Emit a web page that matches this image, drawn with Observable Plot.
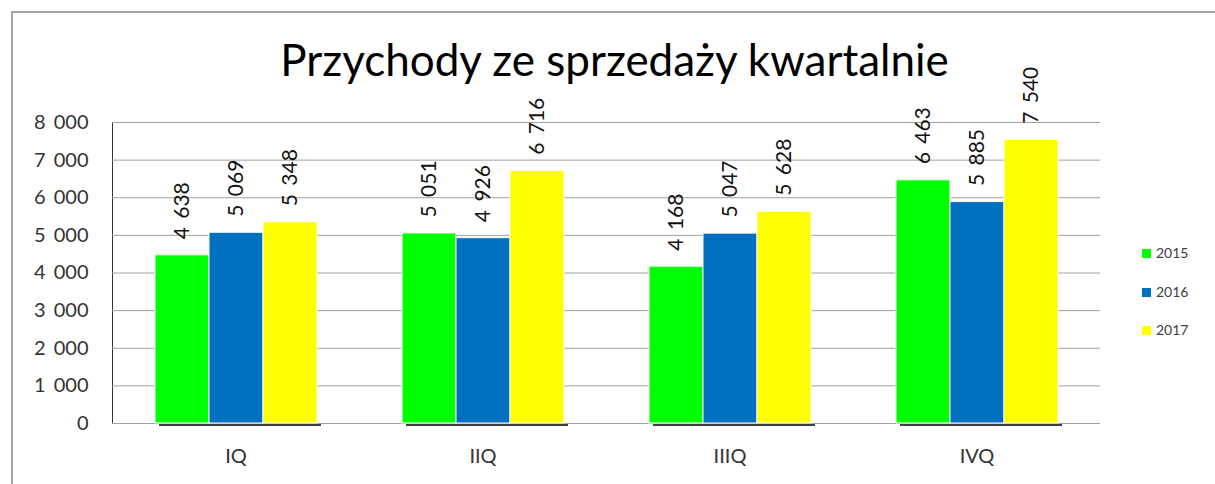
<!DOCTYPE html>
<html><head><meta charset="utf-8">
<script src="https://cdn.jsdelivr.net/npm/d3@7"></script>
<script src="https://cdn.jsdelivr.net/npm/@observablehq/plot@0.6"></script>
<style>
html,body{margin:0;padding:0;background:#fff;overflow:hidden;width:1215px;height:484px;}
#wrap{position:relative;width:1215px;height:484px;font-family:Lato,sans-serif;overflow:hidden}
#frame{position:absolute;left:11px;top:11px;width:1400px;height:700px;border:2px solid #a6a6a6;box-sizing:border-box}
#title{position:absolute;left:7px;width:1215px;top:37px;text-align:center;font-size:44px;line-height:44px;color:#000}
#chart{position:absolute;left:0;top:0}
#legend{position:absolute;left:1142px;top:0;font-size:14px;color:#404040}
.li{position:absolute;left:0;white-space:nowrap;line-height:14px;height:14px}
.sw{display:inline-block;width:9px;height:9px;margin-right:5px;vertical-align:0px}
#chart svg text{word-spacing:3px}
</style></head>
<body><div id="wrap"><div id="frame"></div><div id="chart"></div><div id="title">Przychody ze sprzedaży kwartalnie</div><div id="legend"></div></div>
<script>
const quarters = ["IQ", "IIQ", "IIIQ", "IVQ"];
const years = ["2015", "2016", "2017"];
const colors = ["#00ff00", "#0070c0", "#ffff00"];
// bar heights as drawn
const bars2015 = [4470, 5051, 4168, 6463];
const bars2016 = [5069, 4926, 5047, 5885];
const bars2017 = [5348, 6716, 5628, 7540];
// data labels as printed
const labels2015 = ["4 638", "5 051", "4 168", "6 463"];
const labels2016 = ["5 069", "4 926", "5 047", "5 885"];
const labels2017 = ["5 348", "6 716", "5 628", "7 540"];
const yTicks = [0, 1000, 2000, 3000, 4000, 5000, 6000, 7000, 8000];

const barsByYear = [bars2015, bars2016, bars2017];
const labelsByYear = [labels2015, labels2016, labels2017];
const rows = [];
years.forEach((yr, i) => quarters.forEach((q, j) => rows.push({quarter: q, year: yr, value: barsByYear[i][j], label: labelsByYear[i][j]})));
const fmt = d => d3.format(",")(d).replace(/,/g, " ");

const chart = Plot.plot({
  width: 1215, height: 484,
  marginLeft: 111, marginRight: 115, marginTop: 122, marginBottom: 61,
  style: {fontFamily: "Lato, sans-serif", fontSize: "20px", color: "#333333", background: "transparent"},
  fx: {domain: quarters, padding: 0, label: null, tickSize: 0, tickPadding: 25, axis: "bottom"},
  x: {domain: years, axis: null, paddingInner: 0, paddingOuter: 0.764},
  y: {domain: [0, 8000], ticks: yTicks, tickFormat: fmt, tickSize: 0, tickPadding: 24, label: null, line: true},
  color: {domain: years, range: colors},
  marks: [
    Plot.ruleY(yTicks, {stroke: "#a0a0a0", strokeWidth: 1}),
    Plot.barY(rows, {fx: "quarter", x: "year", y: "value", fill: "year", stroke: "#ffffff", strokeWidth: 1}),
    Plot.ruleY(quarters, {fx: d => d, y: () => 0, x1: () => years[0], x2: () => years[2], dx: 4, dy: 1.5, stroke: "#404040", strokeWidth: 2}),
    Plot.text(rows, {fx: "quarter", x: "year", y: "value", text: "label", rotate: -90, textAnchor: "start", lineAnchor: "middle", dy: -16, fontSize: 21, fill: "#111111"})
  ]
});
document.getElementById("chart").appendChild(chart);
chart.querySelectorAll('[aria-label="y-axis"] path, [aria-label="y-axis line"] path, [aria-label="y-axis line"] line').forEach(p => p.setAttribute("stroke", "#a0a0a0"));

const legend = document.getElementById("legend");
const legendY = [246, 285, 323];
years.forEach((yr, i) => {
  const div = document.createElement("div");
  div.className = "li";
  div.style.top = legendY[i] + "px";
  div.innerHTML = `<span class="sw" style="background:${colors[i]}"></span>${yr}`;
  legend.appendChild(div);
});
</script></body></html>
